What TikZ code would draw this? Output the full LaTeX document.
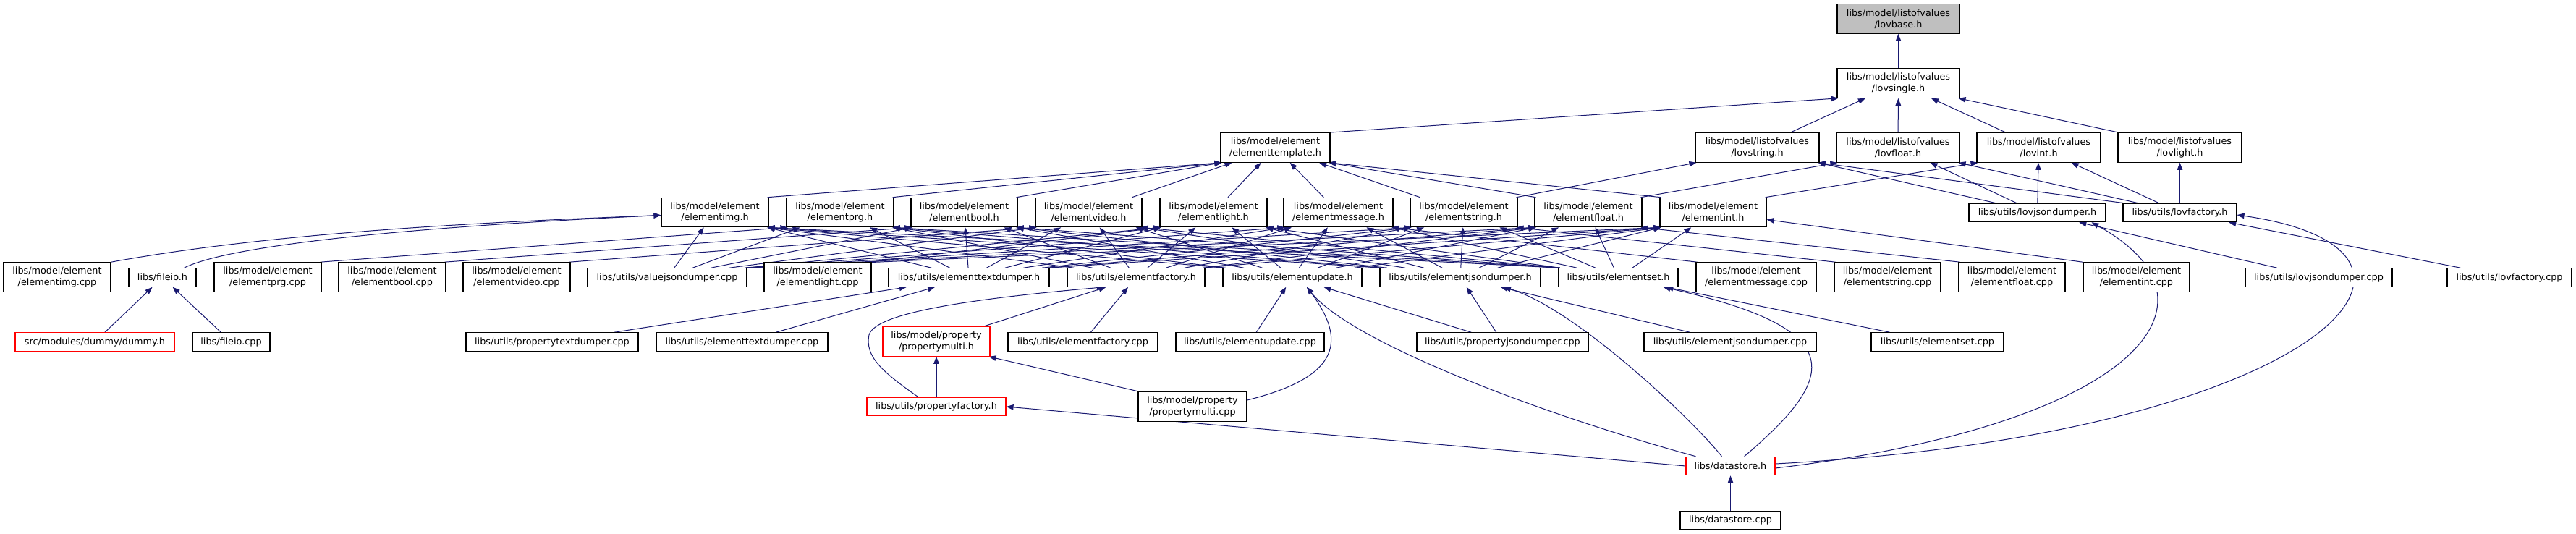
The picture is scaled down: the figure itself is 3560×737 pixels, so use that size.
\documentclass[tikz,border=0pt]{standalone}
\usepackage{fontspec}
\setmainfont{DejaVu Sans}
\usetikzlibrary{arrows.meta,calc}
\definecolor{edgeblue}{RGB}{25,25,112}
\definecolor{grayfill}{RGB}{191,191,191}
\pgfdeclarelayer{edgelayer}
\pgfsetlayers{edgelayer,main}
\tikzset{
 box/.style={draw=black, line width=1.1pt, fill=white, inner sep=0pt, align=center, minimum height=25.5pt},
 tall/.style={minimum height=40.5pt},
 redbox/.style={draw=red},
 edge/.style={draw=edgeblue, line width=1pt, -{Triangle[length=10pt,width=7.5pt]}},
}
\newcommand\E[2]{%
 \draw[edge] let \p1=(#1.center), \p2=(#2.center), \p3=(#1.north east), \p4=(#2.north east),
   \n1={\y3-\y1}, \n2={\x3-\x1-2}, \n3={\y4-\y2}, \n4={\x4-\x2-2},
   \n5={(\x2-\x1)/(\y2-\y1)} in
   ({\x1+max(-\n2,min(\n2,\n5*\n1))},{\y1+\n1}) -- ({\x2-max(-\n4,min(\n4,\n5*\n3))},{\y2-\n3});}
\begin{document}
\begin{tikzpicture}[x=1pt,y=-1pt,font=\fontsize{12.8}{15.7}\selectfont]
\useasboundingbox (0,0) rectangle (3560,737);
% row 0-1
\node[box,tall,minimum width=169pt,fill=grayfill] (lovbase) at (2623.5,26) {libs/model/listofvalues\\/lovbase.h};
\node[box,tall,minimum width=169pt] (lovsingle) at (2623.5,115) {libs/model/listofvalues\\/lovsingle.h};
% row 2
\node[box,tall,minimum width=151pt] (etpl) at (1762.5,204) {libs/model/element\\/elementtemplate.h};
\node[box,tall,minimum width=171pt] (lovstring) at (2428.5,204) {libs/model/listofvalues\\/lovstring.h};
\node[box,tall,minimum width=170pt] (lovfloat) at (2623,204) {libs/model/listofvalues\\/lovfloat.h};
\node[box,tall,minimum width=171pt] (lovint) at (2817.5,204) {libs/model/listofvalues\\/lovint.h};
\node[box,tall,minimum width=171pt] (lovlight) at (3012.5,204) {libs/model/listofvalues\\/lovlight.h};
% row 3
\node[box,tall,minimum width=148pt] (eimg) at (988,293.5) {libs/model/element\\/elementimg.h};
\node[box,tall,minimum width=148pt] (eprg) at (1161,293.5) {libs/model/element\\/elementprg.h};
\node[box,tall,minimum width=147pt] (ebool) at (1332.5,293.5) {libs/model/element\\/elementbool.h};
\node[box,tall,minimum width=147pt] (evideo) at (1504.5,293.5) {libs/model/element\\/elementvideo.h};
\node[box,tall,minimum width=148pt] (elight) at (1677,293.5) {libs/model/element\\/elementlight.h};
\node[box,tall,minimum width=151pt] (emsg) at (1849.5,293.5) {libs/model/element\\/elementmessage.h};
\node[box,tall,minimum width=148pt] (estr) at (2023,293.5) {libs/model/element\\/elementstring.h};
\node[box,tall,minimum width=148pt] (eflt) at (2195,293.5) {libs/model/element\\/elementfloat.h};
\node[box,tall,minimum width=147pt] (eint) at (2367.5,293.5) {libs/model/element\\/elementint.h};
\node[box,minimum width=189pt] (ljd) at (2815.5,294) {libs/utils/lovjsondumper.h};
\node[box,minimum width=157pt] (lf) at (3012.5,294) {libs/utils/lovfactory.h};
% row 4
\node[box,tall,minimum width=148pt] (cimg) at (79,383) {libs/model/element\\/elementimg.cpp};
\node[box,minimum width=93pt] (fileioh) at (224.5,383.5) {libs/fileio.h};
\node[box,tall,minimum width=148pt] (cprg) at (370,383) {libs/model/element\\/elementprg.cpp};
\node[box,tall,minimum width=148pt] (cbool) at (542,383) {libs/model/element\\/elementbool.cpp};
\node[box,tall,minimum width=148pt] (cvideo) at (714,383) {libs/model/element\\/elementvideo.cpp};
\node[box,minimum width=220pt] (vjd) at (922,383.5) {libs/utils/valuejsondumper.cpp};
\node[box,tall,minimum width=148pt] (clight) at (1130,383) {libs/model/element\\/elementlight.cpp};
\node[box,minimum width=222pt] (etd) at (1339,383.5) {libs/utils/elementtextdumper.h};
\node[box,minimum width=190pt] (ef) at (1570,383.5) {libs/utils/elementfactory.h};
\node[box,minimum width=192pt] (eu) at (1786,383.5) {libs/utils/elementupdate.h};
\node[box,minimum width=222pt] (ejd) at (2018,383.5) {libs/utils/elementjsondumper.h};
\node[box,minimum width=165pt] (es) at (2236.5,383.5) {libs/utils/elementset.h};
\node[box,tall,minimum width=166pt] (cmsg) at (2427,383) {libs/model/element\\/elementmessage.cpp};
\node[box,tall,minimum width=147pt] (cstr) at (2608.5,383) {libs/model/element\\/elementstring.cpp};
\node[box,tall,minimum width=147pt] (cflt) at (2780.5,383) {libs/model/element\\/elementfloat.cpp};
\node[box,tall,minimum width=147pt] (cint) at (2952.5,383) {libs/model/element\\/elementint.cpp};
\node[box,minimum width=203pt] (cljd) at (3204.5,383.5) {libs/utils/lovjsondumper.cpp};
\node[box,minimum width=172pt] (clf) at (3468,383.5) {libs/utils/lovfactory.cpp};
% row 5
\node[box,redbox,minimum width=220pt] (dummy) at (131,472.5) {src/modules/dummy/dummy.h};
\node[box,minimum width=107pt] (fileiocpp) at (319.5,472.5) {libs/fileio.cpp};
\node[box,minimum width=238pt] (ptd) at (763,472.5) {libs/utils/propertytextdumper.cpp};
\node[box,minimum width=237pt] (etdc) at (1025.5,472.5) {libs/utils/elementtextdumper.cpp};
\node[box,tall,redbox,minimum width=148pt] (pm) at (1294,472) {libs/model/property\\/propertymulti.h};
\node[box,minimum width=207pt] (efc) at (1496.5,472.5) {libs/utils/elementfactory.cpp};
\node[box,minimum width=205pt] (euc) at (1727.5,472.5) {libs/utils/elementupdate.cpp};
\node[box,minimum width=237pt] (pjd) at (2076.5,472.5) {libs/utils/propertyjsondumper.cpp};
\node[box,minimum width=238pt] (ejdc) at (2391,472.5) {libs/utils/elementjsondumper.cpp};
\node[box,minimum width=183pt] (esc) at (2677.5,472.5) {libs/utils/elementset.cpp};
% row 6-8
\node[box,redbox,minimum width=192pt] (pf) at (1294,562) {libs/utils/propertyfactory.h};
\node[box,tall,minimum width=150pt] (pmc) at (1648,562) {libs/model/property\\/propertymulti.cpp};
\node[box,redbox,minimum width=123pt] (ds) at (2391.5,644) {libs/datastore.h};
\node[box,minimum width=139pt] (dsc) at (2391.5,719) {libs/datastore.cpp};

\begin{pgfonlayer}{edgelayer}
\E{lovsingle}{lovbase}
\E{etpl}{lovsingle}
\foreach \s in {lovstring,lovfloat,lovint,lovlight} {\E{\s}{lovsingle}}
\foreach \s in {eimg,eprg,ebool,evideo,elight,emsg,estr,eflt,eint} {\E{\s}{etpl}}
\E{estr}{lovstring}
\E{eflt}{lovfloat}
\E{eint}{lovint}
\foreach \t in {lovstring,lovfloat,lovint} {\E{ljd}{\t}}
\foreach \t in {lovstring,lovfloat,lovint,lovlight} {\E{lf}{\t}}
\foreach \u in {vjd,etd,ef,eu,ejd,es} {
  \foreach \t in {eimg,eprg,ebool,evideo,elight,emsg,estr,eflt,eint} {\E{\u}{\t}}}
\E{cprg}{eprg}
\E{cbool}{ebool}
\E{cvideo}{evideo}
\E{clight}{elight}
\E{cmsg}{emsg}
\E{cstr}{estr}
\E{cflt}{eflt}
\draw[edge] (cint.north west) -- ([yshift=-10pt]eint.east);
\draw[edge] (cimg.north east) .. controls +(220,-40) and +(-260,10) .. ([yshift=-4pt]eimg.west);
\draw[edge] ([xshift=30pt]fileioh.north) .. controls +(70,-35) and +(-300,14) .. ([yshift=-4pt]eimg.west);
\E{dummy}{fileioh}
\E{fileiocpp}{fileioh}
\E{cljd}{ljd}
\E{clf}{lf}
\E{ptd}{etd}
\E{etdc}{etd}
\E{pm}{ef}
\E{efc}{ef}
\E{euc}{eu}
\E{pjd}{eu}
\E{pjd}{ejd}
\E{ejdc}{ejd}
\E{esc}{es}
\E{pf}{pm}
\E{pmc}{pm}
\E{dsc}{ds}
\draw[edge] ([xshift=-25pt]pf.north) .. controls +(-50,-35) and +(-6,30) .. ++(-68,-86)
   .. controls +(8,-25) and +(-230,20) .. ([xshift=-44pt]ef.south);
\draw[edge] ([yshift=9pt]pmc.east) .. controls +(120,-30) and +(60,80) .. ([xshift=20pt]eu.south);
\draw[edge] (ds.west) -- (pf.east);
\draw[edge] ([xshift=14pt]ds.north west) .. controls +(-220,-60) and +(60,75) .. ([xshift=20pt]eu.south);
\draw[edge] ([xshift=50pt]ds.north west) .. controls +(-40,-50) and +(100,30) .. ([xshift=60pt]ejd.south);
\draw[edge] ([xshift=-43pt]ds.north east) .. controls +(130,-110) and +(260,58) .. ([xshift=62pt]es.south);
\draw[edge] ([yshift=-3pt]ds.east) .. controls +(500,-60) and +(200,110) .. ([xshift=75pt]ljd.south);
\draw[edge] ([yshift=3pt]ds.east) .. controls +(750,-40) and +(350,50) .. ([yshift=-3pt]lf.east);
\end{pgfonlayer}
\end{tikzpicture}
\end{document}
